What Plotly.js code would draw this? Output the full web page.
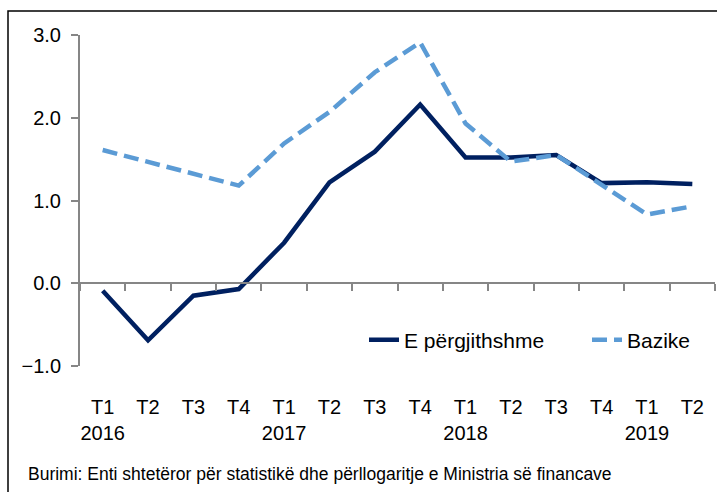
<!DOCTYPE html>
<html>
<head>
<meta charset="utf-8">
<script src="https://cdn.plot.ly/plotly-3.0.1.min.js"></script>
<style>
html,body{margin:0;padding:0;background:#fff;}
#chart{width:717px;height:492px;}
</style>
</head>
<body>
<div id="chart"></div>
<script>
// Data
const periods = ["2016 T1","2016 T2","2016 T3","2016 T4","2017 T1","2017 T2","2017 T3","2017 T4","2018 T1","2018 T2","2018 T3","2018 T4","2019 T1","2019 T2"];
const tickLabels = ["T1<br>2016","T2","T3","T4","T1<br>2017","T2","T3","T4","T1<br>2018","T2","T3","T4","T1<br>2019","T2"];
const general = [-0.09,-0.69,-0.15,-0.07,0.49,1.22,1.59,2.16,1.52,1.52,1.55,1.21,1.22,1.20];
const core = [1.61,1.47,1.33,1.18,1.69,2.07,2.55,2.91,1.93,1.47,1.55,1.19,0.83,0.93];
const seriesNames = ["E përgjithshme","Bazike"];
const yTicks = [-1,0,1,2,3];
const sourceText = "Burimi: Enti shtetëror për statistikë dhe përllogaritje e Ministria së financave";

const FONT = "'Liberation Sans', Arial, sans-serif";
const axisGray = "#868686";

const traces = [
  {x: periods, y: general, name: seriesNames[0], type: "scatter", mode: "lines",
   line: {color: "#002060", width: 4.5}, hoverinfo: "skip", legend: "legend"},
  {x: periods, y: core, name: seriesNames[1], type: "scatter", mode: "lines",
   line: {color: "#5B9BD5", width: 4.5, dash: "15px,7px"}, hoverinfo: "skip", legend: "legend2"}
];

const L = 80, R = 2, T = 35, B = 126, W = 717, H = 492;
const pw = W - L - R, ph = H - T - B;
const px2x = v => (v - L) / pw;
const py2y = v => (H - B - v) / ph;

const legendBase = {orientation: "h", xanchor: "left", yanchor: "middle",
  bgcolor: "rgba(0,0,0,0)", font: {family: FONT, size: 21, color: "#000"}};

const layout = {
  width: W, height: H,
  margin: {l: L, r: R, t: T, b: B, pad: 0},
  paper_bgcolor: "#fff", plot_bgcolor: "#fff",
  font: {family: FONT, size: 20, color: "#000"},
  showlegend: true,
  legend: Object.assign({}, legendBase, {x: px2x(364), y: py2y(340)}),
  legend2: Object.assign({}, legendBase, {x: px2x(587), y: py2y(340)}),
  xaxis: {
    type: "category", categoryorder: "array", categoryarray: periods,
    tickmode: "array", tickvals: periods, ticktext: tickLabels, tickangle: 0,
    range: [-0.5, periods.length - 0.5],
    anchor: "free", position: 0.25,
    showline: true, linecolor: axisGray, linewidth: 2,
    ticks: "outside", tickson: "boundaries", ticklen: 7, tickwidth: 2, tickcolor: axisGray,
    ticklabelstandoff: 106,
    showgrid: false, zeroline: false, fixedrange: true,
    tickfont: {family: FONT, size: 20, color: "#000"}
  },
  yaxis: {
    range: [-1, 3], tickmode: "array", tickvals: yTicks, tickformat: ".1f",
    showline: true, linecolor: axisGray, linewidth: 2,
    ticks: "outside", ticklen: 7, tickwidth: 2, tickcolor: axisGray,
    ticklabelstandoff: 6,
    showgrid: false, zeroline: false, fixedrange: true,
    tickfont: {family: FONT, size: 20, color: "#000"}
  },
  shapes: [
    {type: "rect", xref: "paper", yref: "paper",
     x0: px2x(8), x1: px2x(760), y0: py2y(560), y1: py2y(11),
     line: {color: "#000", width: 1.5}, fillcolor: "rgba(0,0,0,0)", layer: "below"}
  ],
  annotations: [
    {text: sourceText, xref: "paper", yref: "paper", x: px2x(26), y: py2y(474),
     xanchor: "left", yanchor: "middle", showarrow: false,
     font: {family: FONT, size: 17.5, color: "#000"}}
  ]
};

Plotly.newPlot("chart", traces, layout, {staticPlot: true, displayModeBar: false});
</script>
</body>
</html>
